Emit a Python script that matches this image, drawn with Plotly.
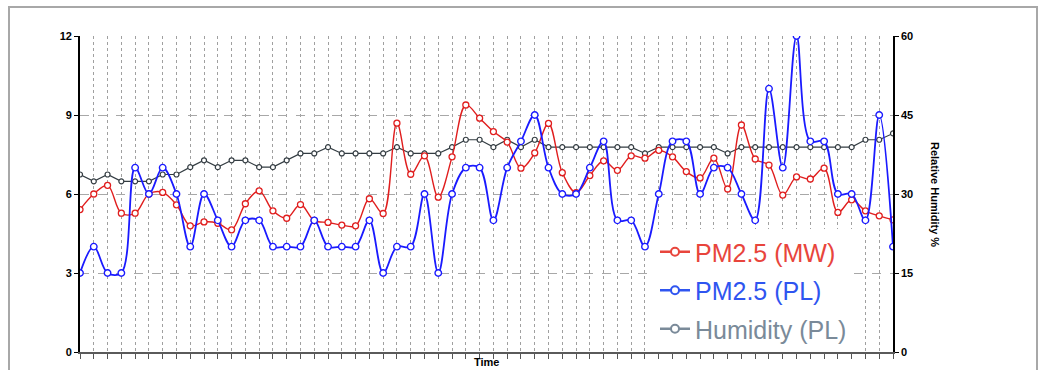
import plotly.graph_objects as go

time_index = list(range(60))

pm25_pl = [3, 4, 3, 3, 7, 6, 7, 6, 4, 6,
           5, 4, 5, 5, 4, 4, 4, 5, 4, 4,
           4, 5, 3, 4, 4, 6, 3, 6, 7, 7,
           5, 7, 8, 9, 7, 6, 6, 7, 8, 5,
           5, 4, 6, 8, 8, 6, 7, 7, 6, 5,
           10, 7, 12, 8, 8, 6, 6, 5, 9, 4]

pm25_mw = [5.41, 6.0, 6.33, 5.27, 5.27, 6.0, 6.06, 5.59, 4.79, 4.94,
           4.89, 4.64, 5.63, 6.12, 5.36, 5.08, 5.6, 4.99, 4.92, 4.82,
           4.79, 5.82, 5.26, 8.69, 6.75, 7.45, 5.88, 7.41, 9.38, 8.88,
           8.37, 7.97, 6.98, 7.56, 8.68, 6.81, 6.05, 6.7, 7.26, 6.9,
           7.45, 7.36, 7.66, 7.41, 6.85, 6.61, 7.36, 6.19, 8.62, 7.33,
           7.1, 5.96, 6.65, 6.57, 6.98, 5.30, 5.78, 5.36, 5.17, 5.02]

humidity_pl = [33.7, 32.4, 33.7, 32.4, 32.4, 32.4, 33.7, 33.7, 35.1, 36.4,
               35.1, 36.4, 36.4, 35.1, 35.1, 36.4, 37.7, 37.7, 38.9, 37.7,
               37.7, 37.7, 37.7, 38.9, 37.7, 37.7, 37.7, 38.9, 40.3, 40.3,
               38.9, 40.3, 38.9, 40.3, 38.9, 38.9, 38.9, 38.9, 38.9, 38.9,
               38.9, 37.7, 38.9, 38.9, 38.9, 38.9, 38.9, 37.7, 38.9, 38.9,
               38.9, 38.9, 38.9, 38.9, 38.9, 38.9, 38.9, 40.3, 40.3, 41.5]

left_ticks = [0, 3, 6, 9, 12]
right_ticks = [0, 15, 30, 45, 60]

RED = "#e01e1e"
BLUE = "#1a1aff"
DARK = "#333c42"
LEG_RED = "#e8453c"
LEG_BLUE = "#2f55f0"
LEG_GRAY = "#7a8a99"

FONT = "Liberation Sans"

fig = go.Figure()

# Humidity on main y axis (right side, 0-60)
fig.add_trace(go.Scatter(
    x=time_index, y=humidity_pl, mode="lines+markers", yaxis="y",
    line=dict(color=DARK, width=1.2),
    marker=dict(symbol="circle", size=5, color="white", line=dict(color=DARK, width=1.2)),
    showlegend=False, hoverinfo="skip"))

fig.add_trace(go.Scatter(
    x=time_index, y=pm25_mw, mode="lines+markers", yaxis="y2",
    line=dict(color=RED, width=1.4, shape="spline", smoothing=1.0),
    marker=dict(symbol="circle", size=6, color="white", line=dict(color=RED, width=1.3)),
    showlegend=False, hoverinfo="skip"))

fig.add_trace(go.Scatter(
    x=time_index, y=pm25_pl, mode="lines+markers", yaxis="y2",
    line=dict(color=BLUE, width=1.8, shape="spline", smoothing=1.0),
    marker=dict(symbol="circle", size=6.5, color="white", line=dict(color=BLUE, width=1.4)),
    showlegend=False, hoverinfo="skip"))

# Legend entries
for nm, col in [("PM2.5 (MW)", LEG_RED), ("PM2.5 (PL)", LEG_BLUE), ("Humidity (PL)", LEG_GRAY)]:
    fig.add_trace(go.Scatter(
        x=[None], y=[None], mode="lines+markers", yaxis="y2",
        name=f"<span style='color:{col}'>{nm}</span>",
        line=dict(color=col, width=2.5),
        marker=dict(symbol="circle", size=8, color="white", line=dict(color=col, width=2)),
        legendgroup=nm))

W, H = 1043, 370
L, R, T, B = 80, 893, 36, 352
pw, ph = R - L, B - T

def px(xp):
    return (xp - L) / pw

def py(yp):
    return (B - yp) / ph

fig.update_layout(
    width=W, height=H,
    margin=dict(l=L, r=W - R, t=T, b=H - B),
    paper_bgcolor="white", plot_bgcolor="white",
    font=dict(family=FONT, color="black", size=11),
    xaxis=dict(
        range=[0, 59], dtick=1, tick0=0,
        showgrid=True, gridcolor="#a0a0a0", griddash="dot", gridwidth=1,
        showticklabels=False, ticks="outside", ticklen=5, tickcolor="#555", tickwidth=1,
        showline=True, linecolor="#5a5a5a", linewidth=2.2, zeroline=False,
    ),
    yaxis=dict(
        range=[0, 60], tickvals=right_ticks, side="right",
        showgrid=True, gridcolor="#a8a8a8", griddash="dash", gridwidth=1,
        ticks="outside", ticklen=4, tickcolor="black",
        showline=True, linecolor="black", linewidth=1.5, zeroline=False,
        tickfont=dict(family=FONT, size=11, color="black", weight="bold"),
    ),
    yaxis2=dict(
        range=[0, 12], tickvals=left_ticks, side="left", overlaying="y",
        showgrid=False, ticks="outside", ticklen=4, tickcolor="black",
        showline=True, linecolor="black", linewidth=1.8, zeroline=False,
        tickfont=dict(family=FONT, size=11, color="black", weight="bold"),
    ),
    legend=dict(
        x=px(655), y=py(229), xanchor="left", yanchor="top",
        bgcolor="white", borderwidth=0,
        font=dict(family=FONT, size=25),
        tracegroupgap=3, traceorder="grouped",
    ),
    shapes=[dict(type="rect", xref="paper", yref="paper",
                 x0=px(9), x1=px(1037), y0=py(380), y1=py(7),
                 line=dict(color="#a8a8a8", width=2), fillcolor="rgba(0,0,0,0)", layer="above")],
    annotations=[
        dict(text="<b>Time</b>", xref="paper", yref="paper", x=0.5, y=py(362),
             xanchor="center", yanchor="middle", showarrow=False,
             font=dict(family=FONT, size=11, color="black")),
        dict(text="<b>Relative Humidity %</b>", xref="paper", yref="paper",
             x=px(935), y=0.5, xanchor="center", yanchor="middle", textangle=90,
             showarrow=False, font=dict(family=FONT, size=11, color="black")),
    ],
)

fig.write_html("out.html", config={"displayModeBar": False},
               post_script="document.body.style.margin='0';document.body.style.overflow='hidden';")
